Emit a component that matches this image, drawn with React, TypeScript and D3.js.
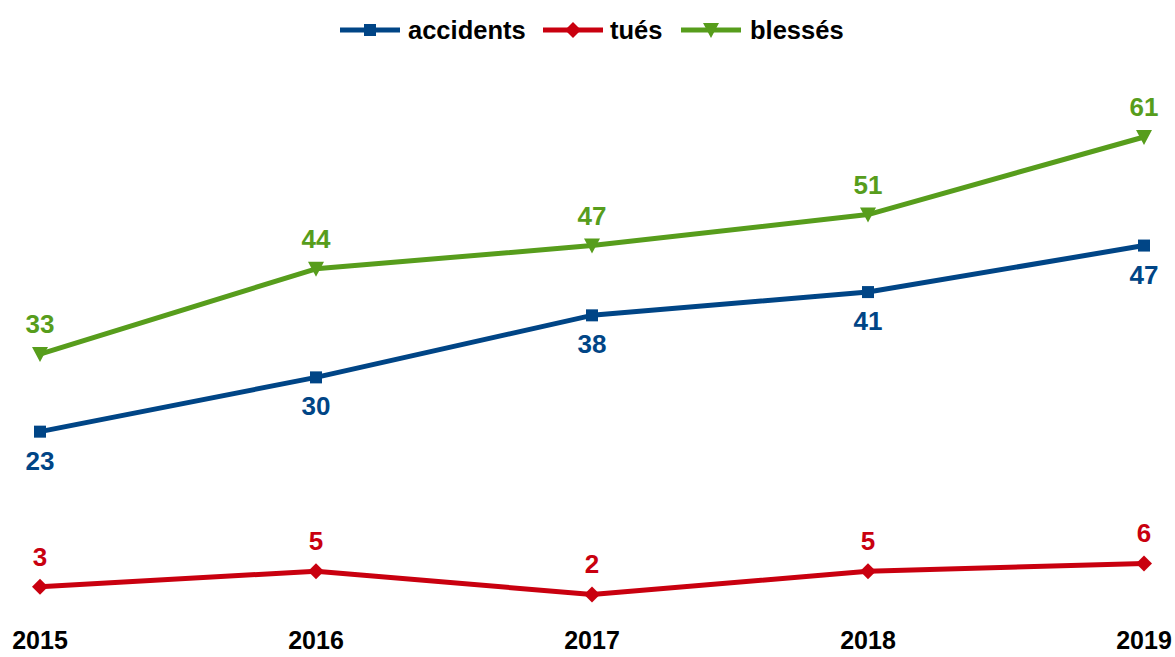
import * as d3 from 'd3'

const years = ['2015', '2016', '2017', '2018', '2019']
const accidents = [23, 30, 38, 41, 47]
const tues = [3, 5, 2, 5, 6]
const blesses = [33, 44, 47, 51, 61]

const W = 1175
const H = 657
const FONT = '"Liberation Sans", Arial, sans-serif'

type Series = {
  name: string
  values: number[]
  color: string
  marker: 'square' | 'diamond' | 'triangle'
  labelPos: 'above' | 'below'
}

const series: Series[] = [
  { name: 'accidents', values: accidents, color: '#004586', marker: 'square', labelPos: 'below' },
  { name: 'tués', values: tues, color: '#c9000f', marker: 'diamond', labelPos: 'above' },
  { name: 'blessés', values: blesses, color: '#579d1c', marker: 'triangle', labelPos: 'above' },
]

function Marker({ kind, x, y, color }: { kind: Series['marker']; x: number; y: number; color: string }) {
  if (kind === 'square') return <rect x={x - 6} y={y - 6} width={12} height={12} fill={color} />
  if (kind === 'diamond')
    return <path d={`M${x},${y - 8}L${x + 8},${y}L${x},${y + 8}L${x - 8},${y}Z`} fill={color} />
  return <path d={`M${x - 8},${y - 7}L${x + 8},${y - 7}L${x},${y + 8}Z`} fill={color} />
}

export default function App() {
  const x = d3.scalePoint<string>().domain(years).range([40, 1144])
  const y = d3.scaleLinear().domain([0, 61]).range([610, 137])

  const line = d3.line<number>()
    .x((_, i) => x(years[i]) ?? 0)
    .y((d) => y(d))

  const legendItems = [
    { s: series[0], x0: 340, tx: 408 },
    { s: series[1], x0: 543, tx: 610 },
    { s: series[2], x0: 681, tx: 750 },
  ]

  return (
    <svg width={W} height={H} style={{ position: 'absolute', left: 0, top: 0, background: '#fff' }}>
      {legendItems.map(({ s, x0, tx }) => (
        <g key={s.name}>
          <line x1={x0} x2={x0 + 60} y1={30} y2={30} stroke={s.color} strokeWidth={5} />
          <Marker kind={s.marker} x={x0 + 30} y={30} color={s.color} />
          <text x={tx} y={39} fontFamily={FONT} fontWeight="bold" fontSize={25.5} fill="#000">
            {s.name}
          </text>
        </g>
      ))}

      {series.map((s) => (
        <g key={s.name}>
          <path d={line(s.values) ?? ''} fill="none" stroke={s.color} strokeWidth={5} strokeLinejoin="round" />
          {s.values.map((v, i) => (
            <Marker key={i} kind={s.marker} x={x(years[i]) ?? 0} y={y(v)} color={s.color} />
          ))}
          {s.values.map((v, i) => (
            <text
              key={'l' + i}
              x={x(years[i]) ?? 0}
              y={y(v) + (s.labelPos === 'above' ? -21 : 38)}
              textAnchor="middle"
              fontFamily={FONT}
              fontWeight="bold"
              fontSize={26}
              fill={s.color}
            >
              {v}
            </text>
          ))}
        </g>
      ))}

      {years.map((yr) => (
        <text
          key={yr}
          x={x(yr) ?? 0}
          y={649}
          textAnchor="middle"
          fontFamily={FONT}
          fontWeight="bold"
          fontSize={25}
          fill="#000"
        >
          {yr}
        </text>
      ))}
    </svg>
  )
}
